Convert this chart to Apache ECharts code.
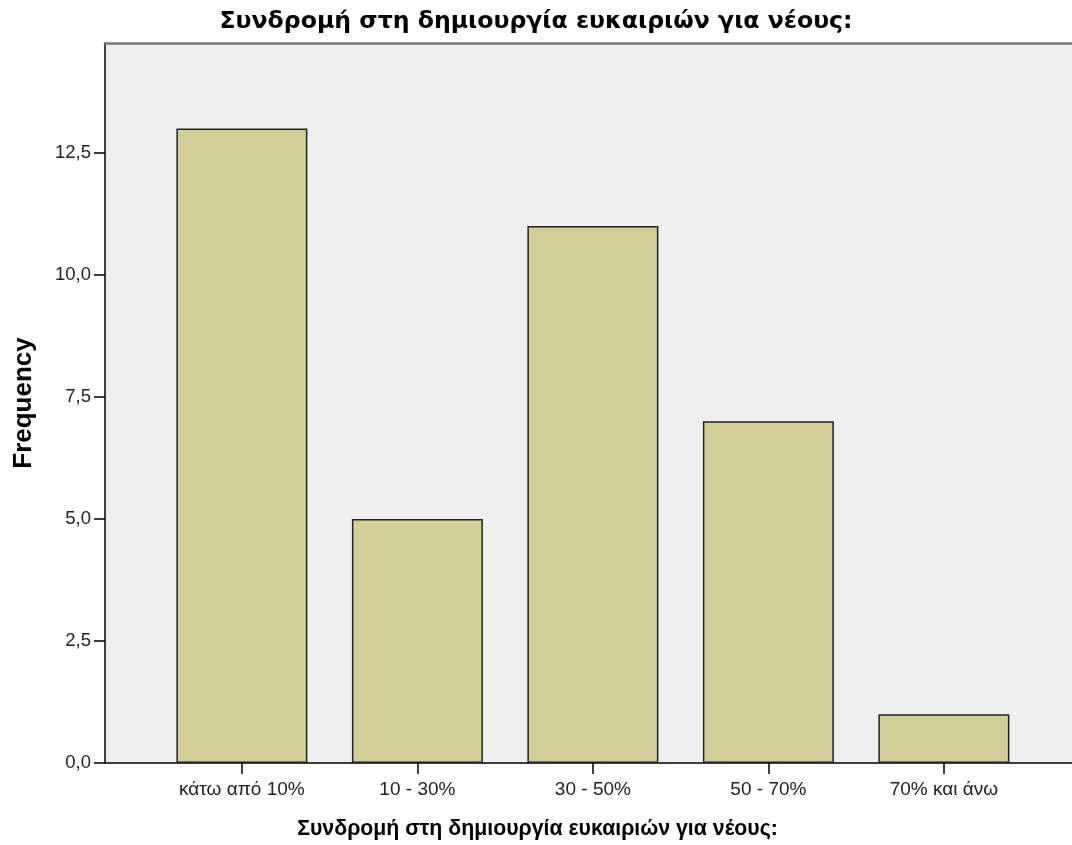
<!DOCTYPE html>
<html>
<head>
<meta charset="utf-8">
<script src="https://cdn.jsdelivr.net/npm/echarts@6/dist/echarts.min.js"></script>
<style>html,body{margin:0;padding:0;background:#fff}#c{width:1072px;height:845px}</style>
</head>
<body>
<div id="c"></div>
<script>
const categories = ['κάτω από 10%', '10 - 30%', '30 - 50%', '50 - 70%', '70% και άνω'];
const frequency = [13, 5, 11, 7, 1];
const yTicks = [0, 2.5, 5, 7.5, 10, 12.5];
const titleText = 'Συνδρομή στη δημιουργία ευκαιριών για νέους:';

const chart = echarts.init(document.getElementById('c'));
const idx = categories.map((c, i) => i);
chart.setOption({
  animation: false,
  backgroundColor: '#ffffff',
  title: {
    text: titleText, left: 'center', top: 5,
    textStyle: { fontFamily: 'DejaVu Sans', fontWeight: 'bold', fontSize: 23.6, color: '#000' }
  },
  grid: {
    left: 105, right: 0, top: 43, bottom: 82,
    containLabel: false, outerBoundsMode: 'none',
    show: true, backgroundColor: '#efefef', borderWidth: 0
  },
  xAxis: [{
    type: 'value', min: -0.78, max: 4.73,
    axisLine: { show: true, onZero: false, lineStyle: { color: '#000', width: 1.5 } },
    axisTick: { show: true, customValues: idx, length: 11, lineStyle: { color: '#000', width: 1.5 } },
    axisLabel: { customValues: idx, formatter: v => categories[Math.round(v)], margin: 17,
      fontFamily: 'Liberation Sans', fontSize: 19, color: '#222' },
    splitLine: { show: false },
    name: titleText, nameLocation: 'middle', nameGap: 56,
    nameTextStyle: { fontFamily: 'Liberation Sans', fontWeight: 'bold', fontSize: 21.3, color: '#000',
      padding: [0, 102, 0, 0] }
  }, {
    type: 'value', position: 'top', min: -0.78, max: 4.73,
    axisLine: { show: true, onZero: false, lineStyle: { color: '#777', width: 2.5 } },
    axisTick: { show: false }, axisLabel: { show: false }, splitLine: { show: false }
  }],
  yAxis: {
    type: 'value', min: 0, max: 14.75,
    axisLine: { show: true, onZero: false, lineStyle: { color: '#000', width: 1.5 } },
    axisTick: { show: true, customValues: yTicks, length: 11, lineStyle: { color: '#000', width: 1.5 } },
    axisLabel: { customValues: yTicks, margin: 14, fontFamily: 'Liberation Sans', fontSize: 18.5, color: '#222',
      formatter: v => v.toFixed(1).replace('.', ',') },
    splitLine: { show: false },
    name: 'Frequency', nameLocation: 'middle', nameGap: 68,
    nameTextStyle: { fontFamily: 'Liberation Sans', fontWeight: 'bold', fontSize: 26, color: '#000' }
  },
  series: [{
    type: 'bar',
    data: frequency.map((v, i) => [i, v]),
    barWidth: 131,
    itemStyle: { color: '#d3ce97', borderColor: '#222', borderWidth: 1.5 }
  }]
});
</script>
</body>
</html>
